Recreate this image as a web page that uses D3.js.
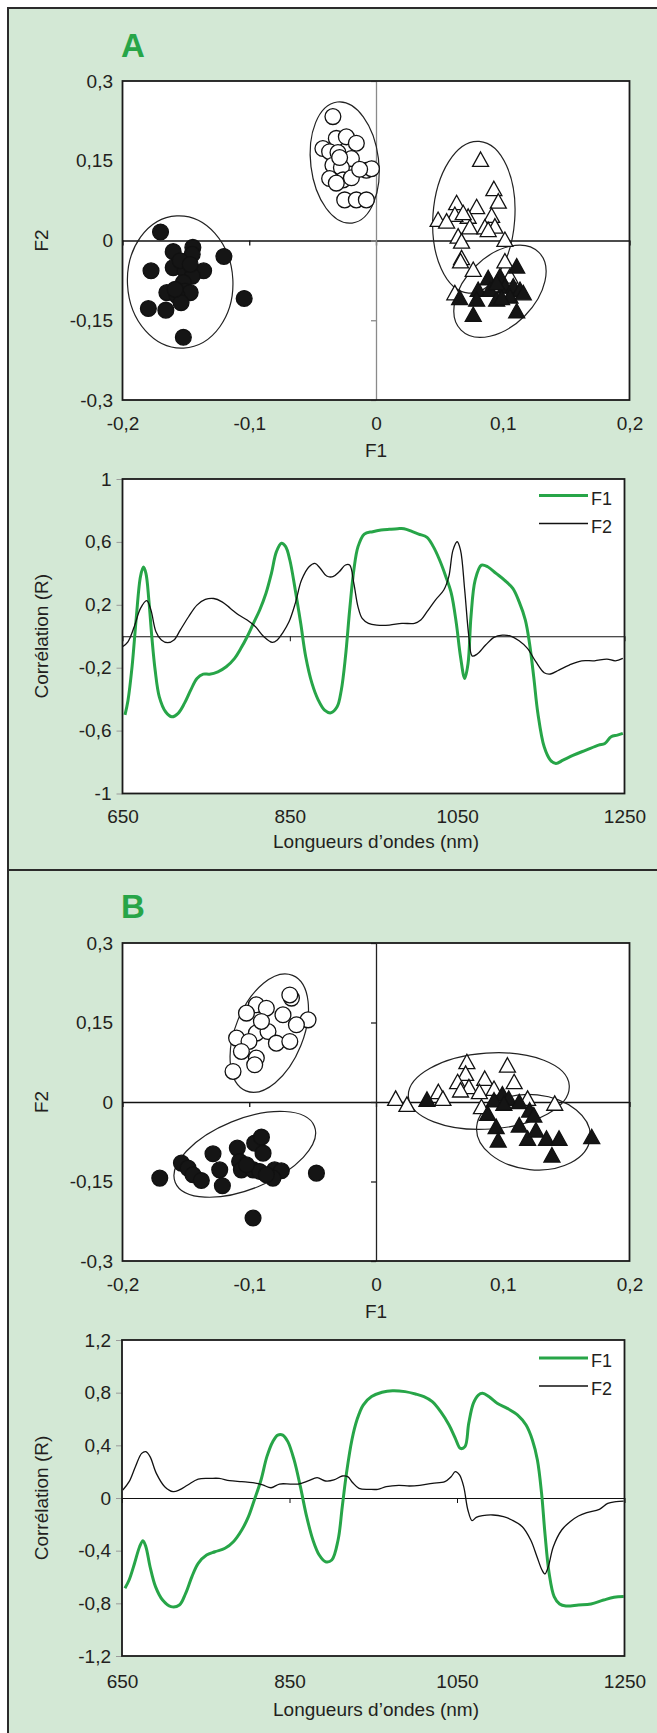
<!DOCTYPE html>
<html><head><meta charset="utf-8">
<script src="https://cdn.jsdelivr.net/npm/d3@7"></script>
<style>html,body{margin:0;padding:0;background:#fff}svg{display:block}</style>
</head><body>
<svg id="c" width="657" height="1733"></svg>
<script>
// ---------- tick values ----------
const scatterXTicks = [-0.2, -0.1, 0, 0.1, 0.2];
const scatterYTicks = [-0.3, -0.15, 0, 0.15, 0.3];
const lineXTicks = [650, 850, 1050, 1250];
const lineYTicksA = [-1, -0.6, -0.2, 0.2, 0.6, 1];
const lineYTicksB = [-1.2, -0.8, -0.4, 0, 0.4, 0.8, 1.2];
const seriesNames = ["F1", "F2"];

// ---------- panel A scatter (F1, F2 scores) ----------
const aFilledCircles = [[-0.170,0.016],[-0.160,-0.021],[-0.1445,-0.013],[-0.145,-0.026],[-0.120,-0.030],[-0.1775,-0.057],[-0.160,-0.051],[-0.1506,-0.057],[-0.136,-0.057],[-0.145,-0.067],[-0.1545,-0.038],[-0.152,-0.079],[-0.1506,-0.095],[-0.165,-0.098],[-0.1466,-0.098],[-0.157,-0.104],[-0.1538,-0.117],[-0.1796,-0.128],[-0.1658,-0.131],[-0.104,-0.109],[-0.152,-0.182],[-0.1585,-0.092],[-0.1466,-0.045]];
const aOpenCircles = [[-0.034,0.233],[-0.0313,0.192],[-0.0234,0.195],[-0.0155,0.183],[-0.0419,0.173],[-0.0366,0.167],[-0.030,0.1655],[-0.0194,0.154],[-0.034,0.1416],[-0.0273,0.137],[-0.0076,0.132],[-0.0036,0.135],[-0.0366,0.1166],[-0.026,0.114],[-0.0194,0.118],[-0.0313,0.108],[-0.0247,0.0764],[-0.0155,0.0764],[-0.0076,0.0764],[-0.0129,0.134],[-0.0287,0.156]];
const aOpenTriangles = [[0.0825,0.153],[0.093,0.098],[0.0965,0.0745],[0.0636,0.0715],[0.0794,0.064],[0.0727,0.046],[0.0622,0.0495],[0.049,0.040],[0.0557,0.037],[0.0912,0.0476],[0.074,0.026],[0.0859,0.026],[0.0938,0.0275],[0.0885,0.021],[0.0648,0.0087],[0.0675,-0.0007],[0.1017,0.0024],[0.0675,-0.032],[0.0667,-0.038],[0.0767,-0.054],[0.1017,-0.038],[0.0622,-0.098],[0.0688,0.0527],[0.1057,-0.0665]];
const aFilledTriangles = [[0.111,-0.0477],[0.0885,-0.0697],[0.0978,-0.0665],[0.0806,-0.0916],[0.066,-0.107],[0.0794,-0.110],[0.0899,-0.0916],[0.0952,-0.110],[0.1017,-0.0853],[0.1083,-0.0853],[0.1136,-0.0916],[0.1057,-0.104],[0.0991,-0.107],[0.1162,-0.098],[0.0767,-0.1386],[0.111,-0.132],[0.0952,-0.079]];
// confidence ellipses: centre, semi-axes (data units), tilt (deg)
const aEllipses = [
  {cx:-0.1545, cy:-0.078, rx:0.0416, ry:0.1245, angle:-3},
  {cx:-0.0247, cy:0.1467, rx:0.0268, ry:0.1147, angle:-7},
  {cx:0.0772, cy:0.0438, rx:0.0323, ry:0.1430, angle:4},
  {cx:0.0978, cy:-0.0954, rx:0.0434, ry:0.0658, angle:-45}
];

// ---------- panel A correlation spectra ----------
const aF1 = [[653,-0.50],[656.5,-0.41],[661.5,-0.19],[666.5,0.12],[671.5,0.38],[675,0.44],[678,0.40],[681.5,0.23],[685,0.0],[689,-0.215],[694,-0.385],[701.5,-0.48],[709,-0.512],[716.5,-0.49],[724,-0.427],[731.5,-0.343],[739,-0.268],[746.5,-0.241],[754,-0.241],[764,-0.226],[774,-0.194],[784,-0.141],[791.5,-0.077],[799,-0.003],[806.5,0.082],[814,0.167],[821.5,0.273],[828,0.40],[834,0.538],[840,0.591],[845,0.57],[850,0.485],[856.5,0.294],[863,0.082],[869,-0.13],[876.5,-0.30],[884,-0.406],[891.5,-0.47],[899,-0.487],[906.5,-0.449],[911.5,-0.343],[916.5,-0.13],[921.5,0.167],[926.5,0.421],[931.5,0.57],[939,0.65],[949,0.665],[959,0.675],[969,0.68],[979,0.684],[986.5,0.684],[996.5,0.665],[1004,0.65],[1014,0.629],[1021.5,0.57],[1029,0.485],[1036.5,0.379],[1043,0.273],[1049,0.082],[1054,-0.13],[1059,-0.268],[1063,-0.173],[1066.5,0.124],[1071.5,0.357],[1079,0.452],[1086.5,0.442],[1096.5,0.40],[1106.5,0.357],[1116.5,0.304],[1124,0.22],[1131.5,0.103],[1136.5,-0.046],[1141.5,-0.258],[1146.5,-0.491],[1154,-0.703],[1161.5,-0.788],[1168,-0.809],[1176.5,-0.788],[1189,-0.756],[1204,-0.724],[1219,-0.692],[1226.5,-0.682],[1234,-0.639],[1241.5,-0.629],[1248,-0.618]];
const aF2 = [[650,-0.067],[656.5,-0.035],[664,0.06],[671.5,0.177],[679,0.226],[684,0.166],[690,0.029],[696.5,-0.024],[704,-0.041],[711.5,-0.024],[719,0.039],[729,0.124],[739,0.198],[749,0.234],[759,0.24],[769,0.219],[779,0.177],[789,0.135],[799,0.103],[809,0.06],[819,-0.003],[829,-0.039],[835,-0.024],[841.5,0.022],[849,0.092],[856.5,0.209],[864,0.357],[873,0.442],[880,0.463],[886.5,0.431],[894,0.383],[901.5,0.379],[909,0.41],[916.5,0.453],[921.5,0.453],[926.5,0.336],[931.5,0.187],[936.5,0.113],[944,0.082],[954,0.071],[969,0.071],[984,0.082],[999,0.082],[1006.5,0.103],[1014,0.156],[1024,0.23],[1034,0.294],[1040,0.379],[1045,0.548],[1050,0.601],[1054,0.548],[1059,0.294],[1064,-0.003],[1068,-0.126],[1074,-0.113],[1084,-0.056],[1094,-0.007],[1104,0.007],[1114,0.001],[1124,-0.029],[1134,-0.077],[1144,-0.162],[1154,-0.232],[1161.5,-0.24],[1171.5,-0.215],[1184,-0.183],[1199,-0.156],[1214,-0.156],[1229,-0.145],[1239,-0.156],[1248,-0.141]];

// ---------- panel B scatter ----------
const bOpenCircles = [[-0.0667,0.196],[-0.068,0.202],[-0.0944,0.1834],[-0.0865,0.177],[-0.1022,0.1677],[-0.0734,0.1645],[-0.0536,0.155],[-0.0628,0.1457],[-0.110,0.1206],[-0.0944,0.130],[-0.0852,0.133],[-0.1002,0.1142],[-0.0786,0.111],[-0.068,0.1142],[-0.1062,0.0953],[-0.0944,0.0828],[-0.0957,0.0702],[-0.1128,0.0576],[-0.0904,0.152]];
const bFilledCircles = [[-0.1706,-0.1436],[-0.1535,-0.1153],[-0.1483,-0.1247],[-0.1444,-0.1374],[-0.1378,-0.1481],[-0.1286,-0.0977],[-0.1233,-0.128],[-0.1212,-0.158],[-0.1094,-0.087],[-0.0957,-0.0776],[-0.0904,-0.0663],[-0.0891,-0.0965],[-0.1076,-0.1122],[-0.1062,-0.128],[-0.097,-0.128],[-0.0918,-0.131],[-0.080,-0.128],[-0.0747,-0.1298],[-0.0813,-0.1436],[-0.047,-0.1342],[-0.097,-0.219],[-0.1022,-0.1185],[-0.0865,-0.1374]];
const bOpenTriangles = [[0.0155,0.0073],[0.0244,-0.004],[0.0492,0.020],[0.0528,0.0073],[0.0717,0.0765],[0.0707,0.0545],[0.0644,0.0387],[0.0733,0.0292],[0.0858,0.045],[0.1037,0.070],[0.109,0.0387],[0.0816,0.0198],[0.0931,0.026],[0.0832,-0.0085],[0.1196,0.0073],[0.141,-0.002],[0.0667,0.023]];
const bFilledTriangles = [[0.0402,0.0054],[0.0997,0.0155],[0.1047,0.0073],[0.113,0.001],[0.0931,0.0042],[0.0881,-0.021],[0.1212,-0.0147],[0.1245,-0.0242],[0.0948,-0.046],[0.113,-0.043],[0.0964,-0.0713],[0.1196,-0.068],[0.1262,-0.0525],[0.1345,-0.068],[0.1444,-0.068],[0.1388,-0.0996],[0.1702,-0.065],[0.1009,-0.002]];
const bEllipses = [
  {cx:-0.0842, cy:0.130, rx:0.0268, ry:0.1175, angle:22},
  {cx:-0.1035, cy:-0.0987, rx:0.0592, ry:0.066, angle:-22},
  {cx:0.089, cy:0.0206, rx:0.0636, ry:0.0717, angle:-4},
  {cx:0.1242, cy:-0.057, rx:0.045, ry:0.0708, angle:6}
];

// ---------- panel B correlation spectra ----------
const bF1 = [[653.5,-0.686],[658.5,-0.623],[665,-0.496],[671,-0.37],[675,-0.324],[678.5,-0.37],[683.5,-0.522],[690,-0.673],[698.5,-0.775],[708.5,-0.825],[718.5,-0.813],[726,-0.724],[733.5,-0.597],[741,-0.496],[751,-0.433],[761,-0.408],[773,-0.382],[783,-0.332],[793,-0.243],[801,-0.142],[808,-0.015],[816,0.137],[823,0.314],[830,0.428],[836,0.478],[842,0.478],[848,0.428],[855.5,0.289],[863,0.086],[870.5,-0.142],[878,-0.319],[885.5,-0.433],[893,-0.484],[900.5,-0.471],[908,-0.319],[913,-0.066],[918,0.187],[924.5,0.441],[930.5,0.592],[938,0.706],[948,0.77],[960.5,0.803],[973,0.815],[988,0.808],[1000.5,0.79],[1010.5,0.77],[1020.5,0.732],[1030.5,0.656],[1040.5,0.554],[1048,0.453],[1054,0.377],[1059.5,0.39],[1064,0.567],[1069.5,0.719],[1075.5,0.782],[1080.5,0.795],[1088,0.77],[1098,0.719],[1110,0.681],[1122.5,0.63],[1132.5,0.554],[1140,0.441],[1146,0.289],[1151,0.035],[1155,-0.268],[1160,-0.572],[1166,-0.749],[1172.5,-0.805],[1180,-0.82],[1195,-0.813],[1210,-0.805],[1225,-0.775],[1237.5,-0.754],[1249,-0.749]];
const bF2 = [[651,0.061],[658.5,0.124],[666,0.238],[673.5,0.339],[678.5,0.352],[683.5,0.314],[691,0.187],[701,0.086],[711,0.048],[718.5,0.061],[728.5,0.099],[741,0.144],[756,0.149],[766,0.149],[778.5,0.132],[793,0.124],[806,0.116],[818,0.099],[828,0.078],[838,0.106],[851,0.106],[860.5,0.106],[873,0.132],[883,0.154],[893,0.129],[903,0.137],[913,0.167],[919.5,0.162],[925.5,0.116],[933,0.073],[945.5,0.066],[955.5,0.066],[965.5,0.086],[980.5,0.096],[993,0.091],[1005.5,0.096],[1020.5,0.111],[1035.5,0.124],[1043,0.162],[1048,0.2],[1053,0.175],[1058,0.086],[1063,-0.091],[1068,-0.172],[1073,-0.147],[1080.5,-0.134],[1093,-0.129],[1105.5,-0.142],[1115.5,-0.167],[1128,-0.218],[1138,-0.319],[1145.5,-0.446],[1151.5,-0.547],[1155,-0.577],[1159,-0.522],[1165,-0.37],[1175,-0.243],[1185,-0.18],[1195,-0.137],[1205,-0.111],[1220,-0.086],[1230,-0.041],[1240,-0.028],[1249,-0.023]];

// ---------- drawing ----------
const FONT = '"Liberation Sans", Arial, Helvetica, sans-serif';
const TXT = '#231f20';
const GREEN = '#27a548';
const BG = '#d3e8d5';
const fmt = d => String(d).replace('.', ',');
const svg = d3.select('#c');

// panels
svg.append('rect').attr('x', 8).attr('y', 8).attr('width', 670).attr('height', 862)
  .attr('fill', BG).attr('stroke', '#2b2b2b').attr('stroke-width', 2);
svg.append('rect').attr('x', 8).attr('y', 870).attr('width', 670).attr('height', 880)
  .attr('fill', BG).attr('stroke', '#2b2b2b').attr('stroke-width', 2);

function panelLetter(t, y) {
  svg.append('text').attr('x', 121).attr('y', y).text(t)
    .attr('font-family', FONT).attr('font-weight', 'bold').attr('font-size', 33).attr('fill', GREEN);
}
panelLetter('A', 57);
panelLetter('B', 918);

const triangleType = {
  draw(ctx, size) {
    const s = Math.sqrt(size), h = s * 0.9;
    ctx.moveTo(0, -h / 2);
    ctx.lineTo(s / 2, h / 2);
    ctx.lineTo(-s / 2, h / 2);
    ctx.closePath();
  }
};

function styleAxisText(g, size) {
  g.attr('font-family', FONT).attr('font-size', size).style('color', TXT);
  g.select('.domain').remove();
}

function scatter(cfg) {
  const {x0, x1, y0, y1} = cfg;
  const xs = d3.scaleLinear().domain([-0.2, 0.2]).range([x0, x1]);
  const ys = d3.scaleLinear().domain([-0.3, 0.3]).range([y1, y0]);
  const g = svg.append('g');
  g.append('rect').attr('x', x0).attr('y', y0).attr('width', x1 - x0).attr('height', y1 - y0)
    .attr('fill', '#fff');

  const gl = g.append('g').attr('transform', `translate(${x0},0)`)
    .call(d3.axisLeft(ys).tickValues(scatterYTicks).tickSize(0).tickPadding(9.5).tickFormat(fmt));
  styleAxisText(gl, 19);
  const gb = g.append('g').attr('transform', `translate(0,${y1})`)
    .call(d3.axisBottom(xs).tickValues(scatterXTicks).tickSize(0).tickFormat(fmt));
  styleAxisText(gb, 19);
  gb.selectAll('text').attr('y', cfg.tickDy).attr('dy', null);

  const gx0 = g.append('g').attr('transform', `translate(0,${ys(0)})`)
    .call(d3.axisBottom(xs).tickValues(scatterXTicks).tickSize(5).tickSizeOuter(0).tickFormat(''));
  gx0.selectAll('path,line').attr('stroke', '#111').attr('stroke-width', 1.3);
  const gy0 = g.append('g').attr('transform', `translate(${xs(0)},0)`)
    .call(d3.axisLeft(ys).tickValues(scatterYTicks).tickSize(5).tickSizeOuter(0).tickFormat(''));
  gy0.selectAll('path,line').attr('stroke', cfg.vColor).attr('stroke-width', 1.3);

  g.selectAll('ellipse.ce').data(cfg.ellipses).join('ellipse').attr('class', 'ce')
    .attr('transform', e => `translate(${xs(e.cx)},${ys(e.cy)}) rotate(${e.angle})`)
    .attr('rx', e => Math.abs(xs(e.cx + e.rx) - xs(e.cx)))
    .attr('ry', e => Math.abs(ys(e.cy + e.ry) - ys(e.cy)))
    .attr('fill', 'none').attr('stroke', '#222').attr('stroke-width', 1.2);

  const circ = (data, fill) => g.append('g').selectAll('circle').data(data).join('circle')
    .attr('cx', d => xs(d[0])).attr('cy', d => ys(d[1])).attr('r', 7.9)
    .attr('fill', fill).attr('stroke', '#111').attr('stroke-width', 1.3);
  const tri = (data, fill) => g.append('g').selectAll('path').data(data).join('path')
    .attr('transform', d => `translate(${xs(d[0])},${ys(d[1])})`)
    .attr('d', d3.symbol().type(triangleType).size(256))
    .attr('fill', fill).attr('stroke', '#111').attr('stroke-width', 1.3).attr('stroke-linejoin', 'miter');
  circ(cfg.openCircles, '#fff');
  circ(cfg.filledCircles, '#151515');
  tri(cfg.openTriangles, '#fff');
  tri(cfg.filledTriangles, '#151515');

  g.append('rect').attr('x', x0).attr('y', y0).attr('width', x1 - x0).attr('height', y1 - y0)
    .attr('fill', 'none').attr('stroke', '#1a1a1a').attr('stroke-width', 1.8);

  g.append('text').attr('x', xs(0)).attr('y', y1 + cfg.titleDy).attr('text-anchor', 'middle')
    .attr('font-family', FONT).attr('font-size', 19).attr('fill', TXT).text(seriesNames[0]);
  g.append('text').attr('transform', `translate(41,${(y0 + y1) / 2}) rotate(-90)`)
    .attr('text-anchor', 'middle').attr('dy', '0.35em')
    .attr('font-family', FONT).attr('font-size', 19).attr('fill', TXT).text(seriesNames[1]);
}

function spectra(cfg) {
  const {x0, x1, y0, y1} = cfg;
  const xs = d3.scaleLinear().domain([650, 1250]).range([x0, x1]);
  const ys = d3.scaleLinear().domain(cfg.yDomain).range([y1, y0]);
  const g = svg.append('g');
  g.append('rect').attr('x', x0).attr('y', y0).attr('width', x1 - x0).attr('height', y1 - y0)
    .attr('fill', '#fff');

  const gl = g.append('g').attr('transform', `translate(${x0},0)`)
    .call(d3.axisLeft(ys).tickValues(cfg.yTicks).tickSize(6).tickPadding(5).tickFormat(fmt));
  styleAxisText(gl, 19);
  gl.selectAll('line').attr('stroke', '#9a9a9a');
  const gb = g.append('g').attr('transform', `translate(0,${y1})`)
    .call(d3.axisBottom(xs).tickValues(lineXTicks).tickSize(0).tickFormat(d => d));
  styleAxisText(gb, 19);
  gb.selectAll('text').attr('y', cfg.tickDy).attr('dy', null);

  const gz = g.append('g').attr('transform', `translate(0,${ys(0)})`)
    .call(d3.axisBottom(xs).tickValues(lineXTicks).tickSize(5).tickSizeOuter(0).tickFormat(''));
  gz.selectAll('path,line').attr('stroke', '#111').attr('stroke-width', 1);

  const line = d3.line().x(d => xs(d[0])).y(d => ys(d[1])).curve(d3.curveCatmullRom.alpha(0.5));
  g.append('path').datum(cfg.f1).attr('d', line).attr('fill', 'none')
    .attr('stroke', GREEN).attr('stroke-width', 3).attr('stroke-linejoin', 'round');
  g.append('path').datum(cfg.f2).attr('d', line).attr('fill', 'none')
    .attr('stroke', '#111').attr('stroke-width', 1.3).attr('stroke-linejoin', 'round');

  g.append('rect').attr('x', x0).attr('y', y0).attr('width', x1 - x0).attr('height', y1 - y0)
    .attr('fill', 'none').attr('stroke', '#1a1a1a').attr('stroke-width', 1.8);

  const leg = [{name: seriesNames[0], color: GREEN, w: 3, dy: cfg.legDy[0]},
               {name: seriesNames[1], color: '#111', w: 1.3, dy: cfg.legDy[1]}];
  const lg = g.append('g').selectAll('g').data(leg).join('g')
    .attr('transform', d => `translate(0,${y0 + d.dy})`);
  lg.append('line').attr('x1', 539).attr('x2', 588).attr('y1', 0).attr('y2', 0)
    .attr('stroke', d => d.color).attr('stroke-width', d => d.w);
  lg.append('text').attr('x', 591).attr('y', 9).text(d => d.name)
    .attr('font-family', FONT).attr('font-size', 18).attr('fill', TXT);

  g.append('text').attr('x', 376).attr('y', y1 + cfg.titleDy).attr('text-anchor', 'middle')
    .attr('font-family', FONT).attr('font-size', 19).attr('fill', TXT).text('Longueurs d’ondes (nm)');
  g.append('text').attr('transform', `translate(41,${(y0 + y1) / 2}) rotate(-90)`)
    .attr('text-anchor', 'middle').attr('dy', '0.35em')
    .attr('font-family', FONT).attr('font-size', 19).attr('fill', TXT).text('Corrélation (R)');
}

scatter({x0: 122.5, x1: 629.5, y0: 81, y1: 400, tickDy: 30, titleDy: 57, vColor: '#8a8a8a',
  openCircles: aOpenCircles, filledCircles: aFilledCircles,
  openTriangles: aOpenTriangles, filledTriangles: aFilledTriangles, ellipses: aEllipses});
spectra({x0: 122.5, x1: 624.5, y0: 479, y1: 793.5, yDomain: [-1, 1], yTicks: lineYTicksA,
  tickDy: 29.5, titleDy: 54, legDy: [16.5, 44.5], f1: aF1, f2: aF2});
scatter({x0: 122.5, x1: 629.5, y0: 943, y1: 1261, tickDy: 30, titleDy: 57, vColor: '#222',
  openCircles: bOpenCircles, filledCircles: bFilledCircles,
  openTriangles: bOpenTriangles, filledTriangles: bFilledTriangles, ellipses: bEllipses});
spectra({x0: 122, x1: 624.5, y0: 1340, y1: 1656, yDomain: [-1.2, 1.2], yTicks: lineYTicksB,
  tickDy: 32, titleDy: 60, legDy: [18, 46], f1: bF1, f2: bF2});
</script></body></html>
